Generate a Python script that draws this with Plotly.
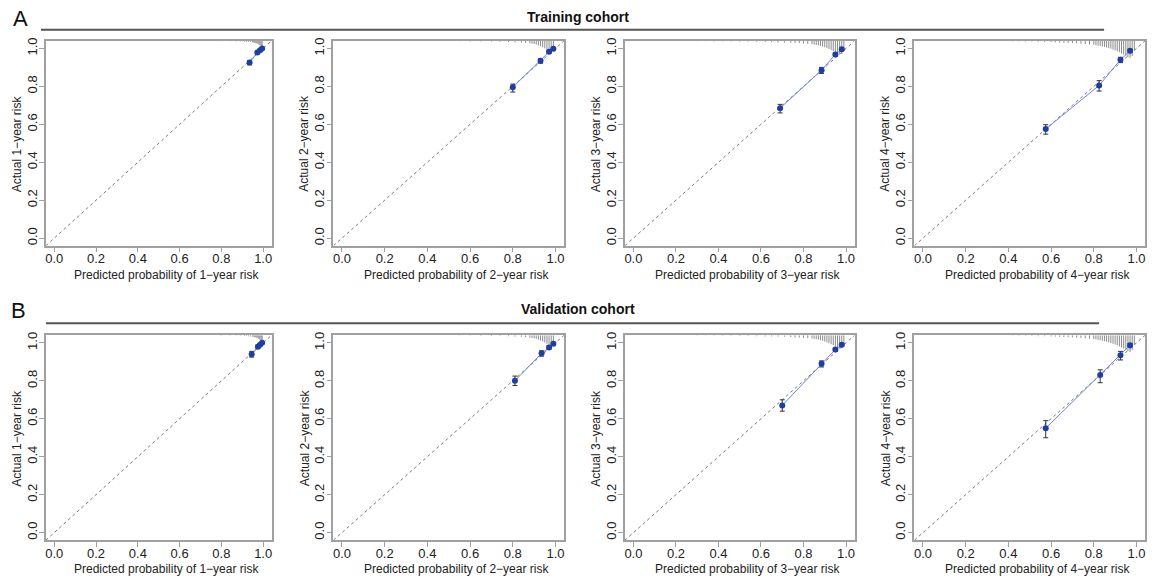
import plotly.graph_objects as go

# ---------------- data ----------------
HORIZONS = ["1", "2", "3", "4"]
ROW_TITLES = ["Training cohort", "Validation cohort"]
ROW_LETTERS = ["A", "B"]
TICK_VALS = [0.0, 0.2, 0.4, 0.6, 0.8, 1.0]
TICK_TEXT = ["0.0", "0.2", "0.4", "0.6", "0.8", "1.0"]

# Training cohort: predicted, observed, CI low, CI high
tr1_pred = [0.935, 0.972, 0.985, 0.995]
tr1_obs = [0.925, 0.978, 0.990, 1.000]
tr1_lo = [0.913, 0.970, 0.984, 0.995]
tr1_hi = [0.935, 0.985, 0.995, 1.003]

tr2_pred = [0.800, 0.930, 0.970, 0.990]
tr2_obs = [0.795, 0.935, 0.982, 0.998]
tr2_lo = [0.770, 0.922, 0.975, 0.994]
tr2_hi = [0.812, 0.945, 0.990, 1.002]

tr3_pred = [0.690, 0.885, 0.950, 0.980]
tr3_obs = [0.685, 0.885, 0.968, 0.995]
tr3_lo = [0.660, 0.868, 0.958, 0.989]
tr3_hi = [0.705, 0.900, 0.977, 1.000]

tr4_pred = [0.575, 0.825, 0.925, 0.970]
tr4_obs = [0.575, 0.805, 0.940, 0.988]
tr4_lo = [0.548, 0.775, 0.925, 0.980]
tr4_hi = [0.598, 0.830, 0.953, 0.995]

# Validation cohort
va1_pred = [0.945, 0.975, 0.985, 0.995]
va1_obs = [0.940, 0.980, 0.990, 1.000]
va1_lo = [0.925, 0.972, 0.984, 0.995]
va1_hi = [0.955, 0.988, 0.996, 1.004]

va2_pred = [0.810, 0.935, 0.970, 0.990]
va2_obs = [0.800, 0.945, 0.975, 0.995]
va2_lo = [0.775, 0.930, 0.967, 0.990]
va2_hi = [0.825, 0.958, 0.985, 1.000]

va3_pred = [0.700, 0.885, 0.950, 0.980]
va3_obs = [0.670, 0.890, 0.965, 0.990]
va3_lo = [0.640, 0.873, 0.955, 0.984]
va3_hi = [0.700, 0.905, 0.975, 0.997]

va4_pred = [0.575, 0.830, 0.925, 0.970]
va4_obs = [0.550, 0.830, 0.935, 0.988]
va4_lo = [0.500, 0.790, 0.910, 0.980]
va4_hi = [0.590, 0.858, 0.955, 0.996]

# Distribution of predicted risks (spikes hanging from the top of each panel)
rug1_x = [0.80, 0.84, 0.87, 0.89, 0.91, 0.92, 0.93, 0.94, 0.95, 0.955, 0.96, 0.965, 0.97, 0.975, 0.98, 0.985, 0.99, 0.995]
tr_rug1_len = [0.002, 0.002, 0.003, 0.003, 0.004, 0.005, 0.005, 0.006, 0.008, 0.009, 0.010, 0.012, 0.014, 0.016, 0.020, 0.024, 0.028, 0.030]
va_rug1_len = [0.002, 0.002, 0.002, 0.003, 0.004, 0.004, 0.005, 0.006, 0.007, 0.008, 0.010, 0.011, 0.013, 0.016, 0.019, 0.023, 0.027, 0.030]

rug2_x = [0.55, 0.60, 0.65, 0.70, 0.74, 0.78, 0.81, 0.84, 0.86, 0.88, 0.89, 0.90, 0.91, 0.92, 0.93, 0.94, 0.95, 0.96, 0.97, 0.98, 0.99]
tr_rug2_len = [0.002, 0.003, 0.003, 0.004, 0.005, 0.006, 0.007, 0.009, 0.011, 0.013, 0.015, 0.017, 0.020, 0.024, 0.028, 0.034, 0.040, 0.048, 0.055, 0.050, 0.035]
va_rug2_len = [0.002, 0.002, 0.003, 0.004, 0.004, 0.005, 0.007, 0.008, 0.010, 0.012, 0.014, 0.016, 0.019, 0.023, 0.027, 0.032, 0.038, 0.045, 0.052, 0.048, 0.035]

rug3_x = [0.30, 0.34, 0.38, 0.42, 0.46, 0.50, 0.54, 0.58, 0.62, 0.65, 0.68, 0.71, 0.74, 0.76, 0.78, 0.80, 0.82, 0.84,
          0.85, 0.86, 0.87, 0.88, 0.89, 0.90, 0.91, 0.92, 0.93, 0.94, 0.95, 0.96, 0.97, 0.98, 0.99]
tr_rug3_len = [0.002, 0.002, 0.003, 0.003, 0.003, 0.004, 0.004, 0.005, 0.006, 0.007, 0.008, 0.009, 0.010, 0.011, 0.012,
               0.014, 0.016, 0.018, 0.020, 0.022, 0.024, 0.027, 0.030, 0.034, 0.038, 0.043, 0.048, 0.054, 0.060, 0.066,
               0.072, 0.070, 0.050]
va_rug3_len = [0.002, 0.002, 0.002, 0.003, 0.003, 0.004, 0.004, 0.005, 0.006, 0.006, 0.007, 0.008, 0.010, 0.011, 0.012,
               0.013, 0.015, 0.017, 0.019, 0.021, 0.023, 0.026, 0.029, 0.033, 0.037, 0.042, 0.047, 0.052, 0.058, 0.064,
               0.070, 0.068, 0.050]

rug4_x = [0.42, 0.45, 0.48, 0.51, 0.54, 0.57, 0.60, 0.62, 0.64, 0.66, 0.68, 0.70, 0.72, 0.74, 0.76, 0.78,
          0.80, 0.81, 0.82, 0.83, 0.84, 0.85, 0.86, 0.87, 0.88, 0.89, 0.90, 0.91, 0.92, 0.93, 0.94, 0.95,
          0.96, 0.97, 0.98, 0.99]
tr_rug4_len = [0.003, 0.003, 0.004, 0.004, 0.005, 0.006, 0.007, 0.008, 0.009, 0.010, 0.011, 0.012, 0.013, 0.015,
               0.017, 0.019, 0.021, 0.023, 0.025, 0.027, 0.030, 0.032, 0.035, 0.038, 0.042, 0.046, 0.050, 0.055,
               0.060, 0.066, 0.072, 0.078, 0.085, 0.090, 0.080, 0.050]
va_rug4_len = [0.002, 0.003, 0.003, 0.004, 0.005, 0.005, 0.006, 0.007, 0.008, 0.009, 0.010, 0.011, 0.013, 0.014,
               0.016, 0.018, 0.020, 0.022, 0.024, 0.026, 0.029, 0.031, 0.034, 0.037, 0.041, 0.045, 0.049, 0.054,
               0.059, 0.064, 0.070, 0.076, 0.082, 0.088, 0.078, 0.050]

PANELS = [
    [(tr1_pred, tr1_obs, tr1_lo, tr1_hi, rug1_x, tr_rug1_len),
     (tr2_pred, tr2_obs, tr2_lo, tr2_hi, rug2_x, tr_rug2_len),
     (tr3_pred, tr3_obs, tr3_lo, tr3_hi, rug3_x, tr_rug3_len),
     (tr4_pred, tr4_obs, tr4_lo, tr4_hi, rug4_x, tr_rug4_len)],
    [(va1_pred, va1_obs, va1_lo, va1_hi, rug1_x, va_rug1_len),
     (va2_pred, va2_obs, va2_lo, va2_hi, rug2_x, va_rug2_len),
     (va3_pred, va3_obs, va3_lo, va3_hi, rug3_x, va_rug3_len),
     (va4_pred, va4_obs, va4_lo, va4_hi, rug4_x, va_rug4_len)],
]

# ---------------- layout geometry (pixels) ----------------
W, H = 1158, 579
COLS = [(45, 271), (333, 564), (625, 855), (915, 1146)]
ROWS = [(38, 244), (334, 540)]
AX_RANGE = [-0.04, 1.04]

FONT = "Liberation Sans, Arial, Helvetica, sans-serif"
BOX_COLOR = "#a0a0a0"
TEXT_COLOR = "#222222"


def fx(p):
    return p / W


def fy(p):
    return 1 - p / H


fig = go.Figure()
layout = {}
annotations = []
shapes = []

for r, row in enumerate(PANELS):
    y0, y1 = ROWS[r]
    for c, (pred, obs, lo, hi, rx, rlen) in enumerate(row):
        i = r * 4 + c + 1
        xa = "x" if i == 1 else f"x{i}"
        ya = "y" if i == 1 else f"y{i}"
        x0, x1 = COLS[c]

        # diagonal reference line across the whole plotting region
        fig.add_trace(go.Scatter(x=AX_RANGE, y=AX_RANGE, mode="lines", xaxis=xa, yaxis=ya,
                                 line=dict(color="#7a7a7a", width=1, dash="dot"), hoverinfo="skip"))
        # spike histogram of predicted risks
        sx, sy = [], []
        for xv, ln in zip(rx, rlen):
            sx += [xv, xv, None]
            sy += [AX_RANGE[1], AX_RANGE[1] - ln, None]
        fig.add_trace(go.Scatter(x=sx, y=sy, mode="lines", xaxis=xa, yaxis=ya,
                                 line=dict(color="#8a8a8a", width=1), hoverinfo="skip"))
        # calibration curve with error bars
        fig.add_trace(go.Scatter(
            x=pred, y=obs, mode="lines+markers", xaxis=xa, yaxis=ya,
            line=dict(color="#6f82e6", width=1),
            marker=dict(color="#1f3f9f", size=6),
            error_y=dict(type="data", symmetric=False,
                         array=[h - o for h, o in zip(hi, obs)],
                         arrayminus=[o - l for o, l in zip(obs, lo)],
                         color="#333333", thickness=1, width=2.5),
        ))

        common = dict(range=AX_RANGE, tickvals=TICK_VALS, ticktext=TICK_TEXT, showline=True, mirror=True,
                      linecolor=BOX_COLOR, linewidth=1.5, ticks="outside", ticklen=5, tickcolor=BOX_COLOR,
                      tickwidth=1, showgrid=False, zeroline=False,
                      tickfont=dict(family=FONT, size=13, color=TEXT_COLOR), fixedrange=True)
        layout["xaxis" if i == 1 else f"xaxis{i}"] = dict(common, domain=[fx(x0), fx(x1)], anchor=ya,
                                                          ticklabelstandoff=-5)
        layout["yaxis" if i == 1 else f"yaxis{i}"] = dict(common, domain=[fy(y1), fy(y0)], anchor=xa,
                                                          tickangle=-90, ticklabelstandoff=-3)

        h = HORIZONS[c]
        annotations.append(dict(text=f"Predicted probability of {h}\u2212year risk", xref="paper", yref="paper",
                                x=fx((x0 + x1) / 2 + 8), y=fy(y1 + 29), xanchor="center", yanchor="middle",
                                showarrow=False, font=dict(family=FONT, size=12, color=TEXT_COLOR)))
        annotations.append(dict(text=f"Actual {h}\u2212year risk", xref="paper", yref="paper",
                                x=fx(x0 - 29), y=fy((y0 + y1) / 2), xanchor="center", yanchor="middle",
                                textangle=-90, showarrow=False,
                                font=dict(family=FONT, size=12, color=TEXT_COLOR)))

# row headers
HEAD_Y = [14, 308]
LINE_Y = [27, 322]
LINE_X = [(40, 1105), (45, 1100)]
LETTER_XY = [(20, 16), (18, 309)]
for r in range(2):
    annotations.append(dict(text=f"<b>{ROW_TITLES[r]}</b>", xref="paper", yref="paper", x=fx(578),
                            y=fy(HEAD_Y[r]), xanchor="center", yanchor="middle", showarrow=False,
                            font=dict(family=FONT, size=14, color="#111111")))
    annotations.append(dict(text=ROW_LETTERS[r], xref="paper", yref="paper", x=fx(LETTER_XY[r][0]),
                            y=fy(LETTER_XY[r][1]), xanchor="center", yanchor="middle", showarrow=False,
                            font=dict(family=FONT, size=22, color="#111111")))
    shapes.append(dict(type="line", xref="paper", yref="paper", x0=fx(LINE_X[r][0]), x1=fx(LINE_X[r][1]),
                       y0=fy(LINE_Y[r]), y1=fy(LINE_Y[r]), line=dict(color="#555555", width=2)))

fig.update_layout(width=W, height=H, margin=dict(l=0, r=0, t=0, b=0), showlegend=False,
                  plot_bgcolor="white", paper_bgcolor="white", annotations=annotations, shapes=shapes,
                  **layout)

fig.write_html("out.html")
